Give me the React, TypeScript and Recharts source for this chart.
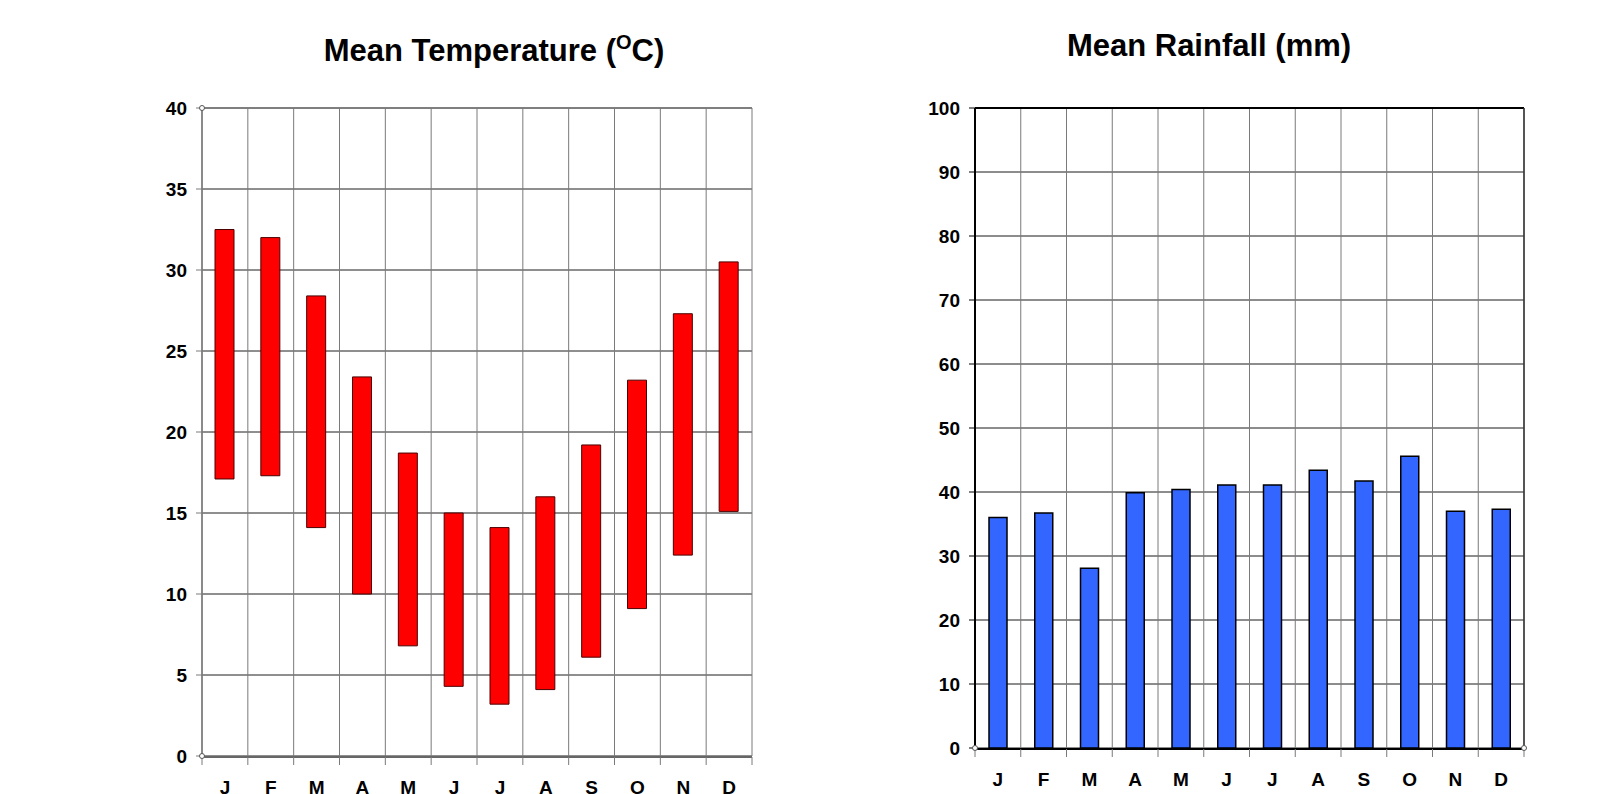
import { BarChart, Bar, XAxis, YAxis, CartesianGrid, ReferenceLine, ReferenceDot } from "recharts";

const MONTHS = ["J", "F", "M", "A", "M", "J", "J", "A", "S", "O", "N", "D"];
const TEMP_LOW = [17.1, 17.3, 14.1, 10.0, 6.8, 4.3, 3.2, 4.1, 6.1, 9.1, 12.4, 15.1];
const TEMP_HIGH = [32.5, 32.0, 28.4, 23.4, 18.7, 15.0, 14.1, 16.0, 19.2, 23.2, 27.3, 30.5];
const RAINFALL = [36.0, 36.7, 28.1, 39.9, 40.4, 41.1, 41.1, 43.4, 41.7, 45.6, 37.0, 37.3];
const TEMP_TICKS = [0, 5, 10, 15, 20, 25, 30, 35, 40];
const RAIN_TICKS = [0, 10, 20, 30, 40, 50, 60, 70, 80, 90, 100];
const BOUNDARY_TICKS = [0, 1, 2, 3, 4, 5, 6, 7, 8, 9, 10, 11, 12];

const FONT = "'Liberation Sans', Arial, sans-serif";
const tickStyle = { fontSize: 19, fontWeight: 700, fill: "#000", fontFamily: FONT };

const tempData = MONTHS.map((m, i) => ({ idx: i, month: m, range: [TEMP_LOW[i], TEMP_HIGH[i]] }));
const rainData = MONTHS.map((m, i) => ({ idx: i, month: m, rain: RAINFALL[i] }));

const fmtMonth = (i: number) => MONTHS[i];
const blank = () => "";

function TemperatureChart() {
  return (
    <BarChart
      width={800}
      height={794}
      data={tempData}
      margin={{ top: 108, right: 48, bottom: 36, left: 142 }}
      style={{ position: "absolute", left: 0, top: 0 }}
    >
      <CartesianGrid xAxisId="grid" yAxisId="t" vertical={false} stroke="#1e1e1e" strokeWidth={1} />
      <CartesianGrid xAxisId="grid" yAxisId="t" horizontal={false} stroke="#7a7a7a" strokeWidth={1} />
      <ReferenceLine xAxisId="grid" yAxisId="t" y={40} stroke="#7a7a7a" strokeWidth={1.5} />
      <XAxis
        xAxisId="grid"
        dataKey="idx"
        type="number"
        domain={[0, 12]}
        ticks={BOUNDARY_TICKS}
        interval={0}
        allowDataOverflow
        height={1}
        tickFormatter={blank}
        tickSize={8}
        tickLine={{ stroke: "#7a7a7a" }}
        axisLine={{ stroke: "#666", strokeWidth: 2 }}
      />
      <XAxis
        xAxisId="cat"
        dataKey="idx"
        type="category"
        height={1}
        tickFormatter={fmtMonth}
        tick={tickStyle}
        tickLine={false}
        axisLine={false}
        tickSize={0}
        tickMargin={25}
        interval={0}
      />
      <YAxis
        yAxisId="t"
        type="number"
        domain={[0, 40]}
        ticks={TEMP_TICKS}
        width={60}
        tick={tickStyle}
        tickSize={6}
        tickMargin={9}
        tickLine={{ stroke: "#7a7a7a" }}
        axisLine={{ stroke: "#7a7a7a", strokeWidth: 1.5 }}
      />
      <Bar
        xAxisId="cat"
        yAxisId="t"
        dataKey="range"
        barSize={19}
        fill="#ff0000"
        stroke="#4a0000"
        strokeWidth={1}
        isAnimationActive={false}
      />
      <ReferenceDot xAxisId="grid" yAxisId="t" x={0} y={40} r={2.5} fill="#fff" stroke="#555" strokeWidth={1} />
      <ReferenceDot xAxisId="grid" yAxisId="t" x={0} y={0} r={2.5} fill="#fff" stroke="#555" strokeWidth={1} />
    </BarChart>
  );
}

function RainfallChart() {
  return (
    <BarChart
      width={818}
      height={794}
      data={rainData}
      margin={{ top: 108, right: 93, bottom: 44, left: 115 }}
      style={{ position: "absolute", left: 800, top: 0 }}
    >
      <CartesianGrid xAxisId="grid" yAxisId="r" vertical={false} stroke="#1a1a1a" strokeWidth={1} />
      <CartesianGrid xAxisId="grid" yAxisId="r" horizontal={false} stroke="#7a7a7a" strokeWidth={1} />
      <ReferenceLine xAxisId="grid" yAxisId="r" y={100} stroke="#000" strokeWidth={2} />
      <XAxis
        xAxisId="grid"
        dataKey="idx"
        type="number"
        domain={[0, 12]}
        ticks={BOUNDARY_TICKS}
        interval={0}
        allowDataOverflow
        height={1}
        tickFormatter={blank}
        tickSize={8}
        tickLine={{ stroke: "#7a7a7a" }}
        axisLine={{ stroke: "#000", strokeWidth: 2 }}
      />
      <XAxis
        xAxisId="cat"
        dataKey="idx"
        type="category"
        height={1}
        tickFormatter={fmtMonth}
        tick={tickStyle}
        tickLine={false}
        axisLine={false}
        tickSize={0}
        tickMargin={25}
        interval={0}
      />
      <YAxis
        yAxisId="r"
        type="number"
        domain={[0, 100]}
        ticks={RAIN_TICKS}
        width={60}
        tick={tickStyle}
        tickSize={6}
        tickMargin={9}
        tickLine={{ stroke: "#000" }}
        axisLine={{ stroke: "#000", strokeWidth: 2 }}
      />
      <YAxis
        yAxisId="border"
        orientation="right"
        type="number"
        domain={[0, 100]}
        allowDataOverflow
        width={1}
        tick={false}
        tickLine={false}
        axisLine={{ stroke: "#333", strokeWidth: 1.5 }}
      />
      <Bar
        xAxisId="cat"
        yAxisId="r"
        dataKey="rain"
        barSize={18}
        fill="#3366ff"
        stroke="#000"
        strokeWidth={1.5}
        isAnimationActive={false}
      />
      <ReferenceDot xAxisId="grid" yAxisId="r" x={0} y={0} r={2.5} fill="#fff" stroke="#555" strokeWidth={1} />
      <ReferenceDot xAxisId="grid" yAxisId="r" x={12} y={0} r={2.5} fill="#fff" stroke="#555" strokeWidth={1} />
    </BarChart>
  );
}

export default function App() {
  return (
    <div style={{ position: "absolute", left: 0, top: 0, width: 1618, height: 794, background: "#fff", overflow: "hidden" }}>
      <TemperatureChart />
      <RainfallChart />
      <svg width={1618} height={100} style={{ position: "absolute", left: 0, top: 0 }}>
        <text x={494} y={61} textAnchor="middle" fontFamily={FONT} fontWeight={700} fontSize={31} fill="#000">
          Mean Temperature (
          <tspan fontSize={20} dy={-12}>O</tspan>
          <tspan dy={12}>C)</tspan>
        </text>
        <text x={1209} y={56} textAnchor="middle" fontFamily={FONT} fontWeight={700} fontSize={31} fill="#000">
          Mean Rainfall (mm)
        </text>
      </svg>
    </div>
  );
}
